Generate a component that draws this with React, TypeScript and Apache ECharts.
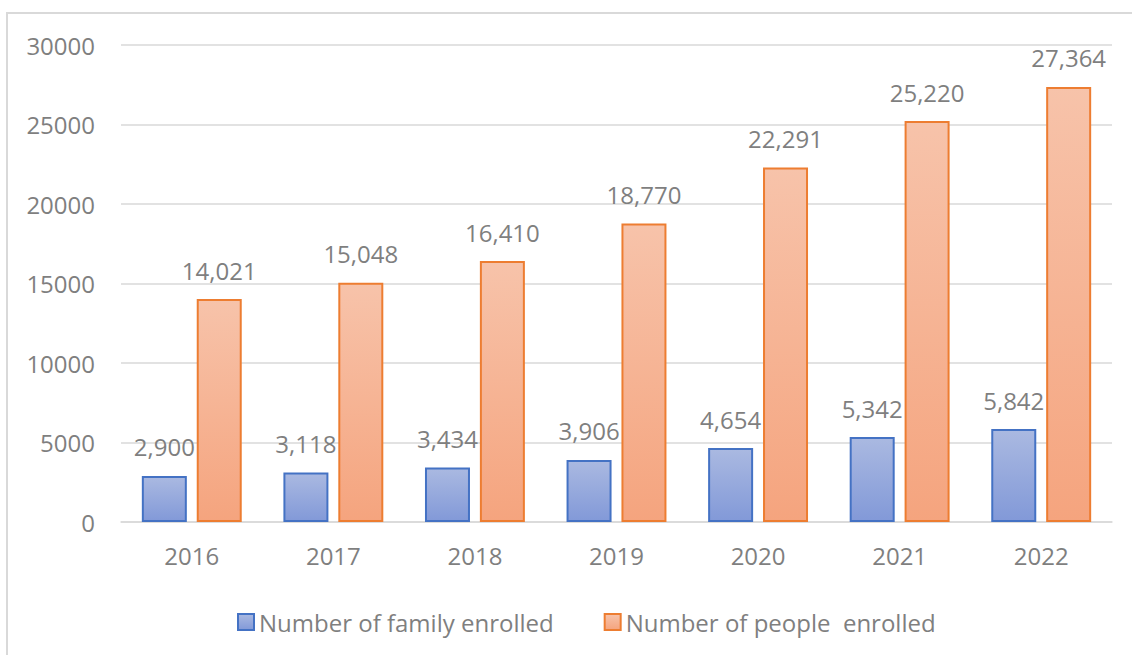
import React, { useEffect, useRef } from "react";
import * as echarts from "echarts";

const years = ["2016", "2017", "2018", "2019", "2020", "2021", "2022"];
const familyEnrolled = [2900, 3118, 3434, 3906, 4654, 5342, 5842];
const peopleEnrolled = [14021, 15048, 16410, 18770, 22291, 25220, 27364];
const seriesNames = ["Number of family enrolled", "Number of people  enrolled"];

const FONT = "'Open Sans', 'Liberation Sans', sans-serif";
const GRAY = "#7f7f7f";

export default function App() {
  const ref = useRef<HTMLDivElement>(null);
  useEffect(() => {
    document.body.style.margin = "0";
    const chart = echarts.init(ref.current!, null, { renderer: "svg" });
    const fmt = (p: any) => Number(p.value).toLocaleString("en-US");
    chart.setOption({
      animation: false,
      backgroundColor: "#ffffff",
      textStyle: { fontFamily: FONT },
      graphic: [
        {
          type: "rect",
          shape: { x: 7, y: 13, width: 1200, height: 700 },
          style: { fill: "none", stroke: "#d9d9d9", lineWidth: 2 },
          silent: true,
        },
      ],
      grid: { left: 121, right: 20, top: 45, bottom: 133 },
      legend: {
        left: 232,
        top: 605,
        itemWidth: 16,
        itemHeight: 16,
        itemGap: 50,
        icon: "rect",
        textStyle: { color: GRAY, fontSize: 24, fontFamily: FONT },
        data: seriesNames,
      },
      xAxis: {
        type: "category",
        data: years,
        axisLine: { lineStyle: { color: "#d9d9d9", width: 1.5 } },
        axisTick: { show: false },
        axisLabel: { color: GRAY, fontSize: 24, margin: 21, fontFamily: FONT },
      },
      yAxis: {
        type: "value",
        min: 0,
        max: 30000,
        interval: 5000,
        axisLine: { show: false },
        axisTick: { show: false },
        axisLabel: {
          color: GRAY,
          fontSize: 24,
          margin: 26,
          fontFamily: FONT,
          formatter: (v: number) => String(v),
        },
        splitLine: { lineStyle: { color: "#d9d9d9", width: 1.5 } },
      },
      series: [
        {
          name: seriesNames[0],
          type: "bar",
          data: familyEnrolled,
          barWidth: 45,
          barGap: "22%",
          itemStyle: {
            color: new echarts.graphic.LinearGradient(0, 0, 0, 1, [
              { offset: 0, color: "#aab9e1" },
              { offset: 1, color: "#8299d8" },
            ]),
            borderColor: "#4472c4",
            borderWidth: 2,
          },
          label: {
            show: true,
            position: "top",
            distance: 17,
            color: GRAY,
            fontSize: 24,
            fontFamily: FONT,
            formatter: fmt,
          },
        },
        {
          name: seriesNames[1],
          type: "bar",
          data: peopleEnrolled,
          barWidth: 45,
          barGap: "22%",
          itemStyle: {
            color: new echarts.graphic.LinearGradient(0, 0, 0, 1, [
              { offset: 0, color: "#f7c3aa" },
              { offset: 1, color: "#f5a47e" },
            ]),
            borderColor: "#ed7d31",
            borderWidth: 2,
          },
          label: {
            show: true,
            position: "top",
            distance: 17,
            color: GRAY,
            fontSize: 24,
            fontFamily: FONT,
            formatter: fmt,
          },
        },
      ],
    });
    return () => chart.dispose();
  }, []);
  return <div ref={ref} style={{ width: 1132, height: 655 }} />;
}
